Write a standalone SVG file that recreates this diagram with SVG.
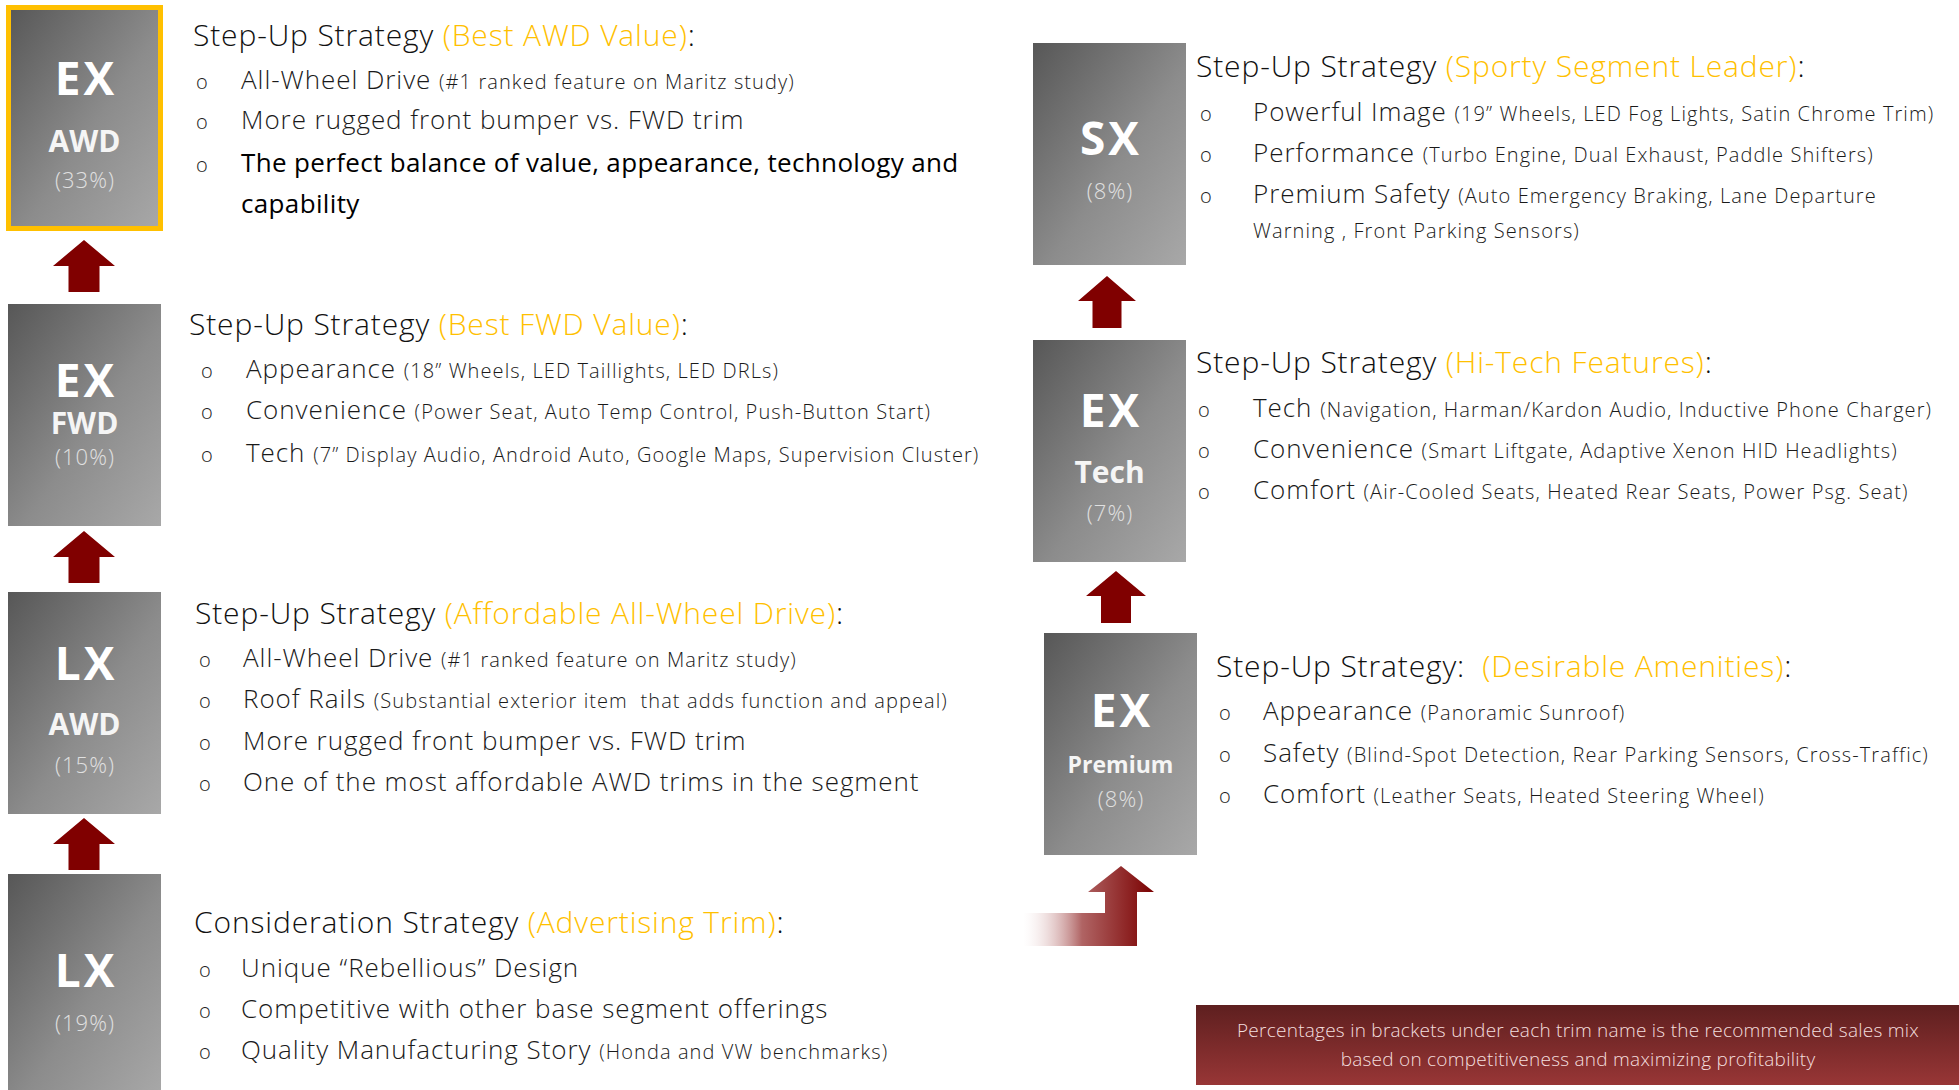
<svg xmlns="http://www.w3.org/2000/svg" width="1959" height="1090" viewBox="0 0 1959 1090">
<defs>
<linearGradient id="gbox" x1="0" y1="0" x2="1" y2="1">
<stop offset="0" stop-color="#575757"/>
<stop offset="0.55" stop-color="#8c8c8c"/>
<stop offset="1" stop-color="#a8a8a8"/>
</linearGradient>
<linearGradient id="gfoot" x1="0" y1="0" x2="0" y2="1">
<stop offset="0" stop-color="#5e1f1f"/>
<stop offset="1" stop-color="#983636"/>
</linearGradient>
<linearGradient id="gbent" gradientUnits="userSpaceOnUse" x1="1023" y1="0" x2="1154" y2="0">
<stop offset="0" stop-color="#ffffff" stop-opacity="0.2"/>
<stop offset="0.45" stop-color="#b06464"/>
<stop offset="1" stop-color="#7a0000"/>
</linearGradient>
<style>
text{font-family:"Open Sans","Noto Sans","Liberation Sans",sans-serif;}
.h{font-size:30px;font-weight:300;fill:#111;letter-spacing:0.85px;}
.y{fill:#FFC000;}
.b{font-size:20px;font-weight:300;fill:#222;}
.i{font-size:26px;font-weight:300;fill:#1a1a1a;letter-spacing:0.95px;}
.s{font-size:20px;letter-spacing:1.1px;}
.k{font-weight:400;fill:#000;letter-spacing:0.35px;}
.big{font-size:46px;font-weight:700;fill:#fff;text-anchor:middle;letter-spacing:3px;}
.sub{font-size:30px;font-weight:700;fill:#f5f5f5;text-anchor:middle;}
.pc{font-size:22px;font-weight:300;fill:#e0e0e0;text-anchor:middle;letter-spacing:1px;}
.box{fill:url(#gbox);}
.arr{fill:#800000;}
.ft{font-size:19px;font-weight:300;fill:#f3dede;text-anchor:middle;letter-spacing:0.25px;}
</style>
</defs>
<rect width="1959" height="1090" fill="#fff"/>

<g id="connectors">
<polygon class="arr" points="84,240 115,266 99.5,266 99.5,292 68.5,292 68.5,266 53,266"/>
<polygon class="arr" points="84,531 115,557 99.5,557 99.5,583 68.5,583 68.5,557 53,557"/>
<polygon class="arr" points="84,818 115,844 99.5,844 99.5,870 68.5,870 68.5,844 53,844"/>
<polygon class="arr" points="1107,276 1136,301 1121.5,301 1121.5,328 1092.5,328 1092.5,301 1078,301"/>
<polygon class="arr" points="1116,571 1146,596 1131,596 1131,623 1101,623 1101,596 1086,596"/>
<polygon fill="url(#gbent)" points="1121,866 1154,892 1137,892 1137,946 1023,946 1023,913 1105,913 1105,892 1088,892"/>
</g>

<g id="node-ex-awd">
<rect class="box" x="8.5" y="7.5" width="152" height="221" stroke="#FFC000" stroke-width="5"/>
<text class="big" x="86" y="95">EX</text>
<text class="sub" x="84.5" y="152">AWD</text>
<text class="pc" x="85" y="188">(33%)</text>
<text class="h" x="193" y="46">Step-Up Strategy <tspan class="y">(Best AWD Value)</tspan>:</text>
<text class="b" x="196" y="89">o</text>
<text class="i" x="241" y="89">All-Wheel Drive <tspan class="s">(#1 ranked feature on Maritz study)</tspan></text>
<text class="b" x="196" y="129">o</text>
<text class="i" x="241" y="129">More rugged front bumper vs. FWD trim</text>
<text class="b" x="196" y="172">o</text>
<text class="i k" x="241" y="172">The perfect balance of value, appearance, technology and</text>
<text class="i k" x="241" y="213">capability</text>
</g>

<g id="node-ex-fwd">
<rect class="box" x="8" y="304" width="153" height="222"/>
<text class="big" x="86" y="397">EX</text>
<text class="sub" x="84.5" y="434">FWD</text>
<text class="pc" x="85" y="465">(10%)</text>
<text class="h" x="189" y="335">Step-Up Strategy <tspan class="y">(Best FWD Value)</tspan>:</text>
<text class="b" x="201" y="378">o</text>
<text class="i" x="246" y="378">Appearance <tspan class="s">(18” Wheels, LED Taillights, LED DRLs)</tspan></text>
<text class="b" x="201" y="419">o</text>
<text class="i" x="246" y="419">Convenience <tspan class="s">(Power Seat, Auto Temp Control, Push-Button Start)</tspan></text>
<text class="b" x="201" y="462">o</text>
<text class="i" x="246" y="462">Tech <tspan class="s">(7” Display Audio, Android Auto, Google Maps, Supervision Cluster)</tspan></text>
</g>

<g id="node-lx-awd">
<rect class="box" x="8" y="592" width="153" height="222"/>
<text class="big" x="86" y="680">LX</text>
<text class="sub" x="84.5" y="735">AWD</text>
<text class="pc" x="85" y="773">(15%)</text>
<text class="h" x="195" y="624">Step-Up Strategy <tspan class="y">(Affordable All-Wheel Drive)</tspan>:</text>
<text class="b" x="199" y="667">o</text>
<text class="i" x="243" y="667">All-Wheel Drive <tspan class="s">(#1 ranked feature on Maritz study)</tspan></text>
<text class="b" x="199" y="708">o</text>
<text class="i" x="243" y="708" xml:space="preserve">Roof Rails <tspan class="s">(Substantial exterior item  that adds function and appeal)</tspan></text>
<text class="b" x="199" y="750">o</text>
<text class="i" x="243" y="750">More rugged front bumper vs. FWD trim</text>
<text class="b" x="199" y="791">o</text>
<text class="i" x="243" y="791">One of the most affordable AWD trims in the segment</text>
</g>

<g id="node-lx">
<rect class="box" x="8" y="874" width="153" height="222"/>
<text class="big" x="86" y="987">LX</text>
<text class="pc" x="85" y="1031">(19%)</text>
<text class="h" x="194" y="933">Consideration Strategy <tspan class="y">(Advertising Trim)</tspan>:</text>
<text class="b" x="199" y="977">o</text>
<text class="i" x="241" y="977">Unique “Rebellious” Design</text>
<text class="b" x="199" y="1018">o</text>
<text class="i" x="241" y="1018">Competitive with other base segment offerings</text>
<text class="b" x="199" y="1059">o</text>
<text class="i" x="241" y="1059">Quality Manufacturing Story <tspan class="s">(Honda and VW benchmarks)</tspan></text>
</g>

<g id="node-sx">
<rect class="box" x="1033" y="43" width="153" height="222"/>
<text class="big" x="1111" y="155">SX</text>
<text class="pc" x="1110" y="199">(8%)</text>
<text class="h" x="1196" y="77">Step-Up Strategy <tspan class="y">(Sporty Segment Leader)</tspan>:</text>
<text class="b" x="1200" y="121">o</text>
<text class="i" x="1253" y="121">Powerful Image <tspan class="s">(19” Wheels, LED Fog Lights, Satin Chrome Trim)</tspan></text>
<text class="b" x="1200" y="162">o</text>
<text class="i" x="1253" y="162">Performance <tspan class="s">(Turbo Engine, Dual Exhaust, Paddle Shifters)</tspan></text>
<text class="b" x="1200" y="203">o</text>
<text class="i" x="1253" y="203">Premium Safety <tspan class="s">(Auto Emergency Braking, Lane Departure</tspan></text>
<text class="i s" x="1253" y="238">Warning , Front Parking Sensors)</text>
</g>

<g id="node-ex-tech">
<rect class="box" x="1033" y="340" width="153" height="222"/>
<text class="big" x="1111" y="427">EX</text>
<text class="sub" x="1109.5" y="483">Tech</text>
<text class="pc" x="1110" y="521">(7%)</text>
<text class="h" x="1196" y="373">Step-Up Strategy <tspan class="y">(Hi-Tech Features)</tspan>:</text>
<text class="b" x="1198" y="417">o</text>
<text class="i" x="1253" y="417">Tech <tspan class="s">(Navigation, Harman/Kardon Audio, Inductive Phone Charger)</tspan></text>
<text class="b" x="1198" y="458">o</text>
<text class="i" x="1253" y="458">Convenience <tspan class="s">(Smart Liftgate, Adaptive Xenon HID Headlights)</tspan></text>
<text class="b" x="1198" y="499">o</text>
<text class="i" x="1253" y="499">Comfort <tspan class="s">(Air-Cooled Seats, Heated Rear Seats, Power Psg. Seat)</tspan></text>
</g>

<g id="node-ex-premium">
<rect class="box" x="1044" y="633" width="153" height="222"/>
<text class="big" x="1122" y="727">EX</text>
<text class="sub" x="1120.5" y="773" style="font-size:23px">Premium</text>
<text class="pc" x="1121" y="807">(8%)</text>
<text class="h" x="1216" y="677" xml:space="preserve">Step-Up Strategy:  <tspan class="y">(Desirable Amenities)</tspan>:</text>
<text class="b" x="1219" y="720">o</text>
<text class="i" x="1263" y="720">Appearance <tspan class="s">(Panoramic Sunroof)</tspan></text>
<text class="b" x="1219" y="762">o</text>
<text class="i" x="1263" y="762">Safety <tspan class="s">(Blind-Spot Detection, Rear Parking Sensors, Cross-Traffic)</tspan></text>
<text class="b" x="1219" y="803">o</text>
<text class="i" x="1263" y="803">Comfort <tspan class="s">(Leather Seats, Heated Steering Wheel)</tspan></text>
</g>

<g id="note">
<rect x="1196" y="1005" width="763" height="80" fill="url(#gfoot)"/>
<text class="ft" x="1578" y="1037">Percentages in brackets under each trim name is the recommended sales mix</text>
<text class="ft" x="1578" y="1066">based on competitiveness and maximizing profitability</text>
</g>
</svg>
